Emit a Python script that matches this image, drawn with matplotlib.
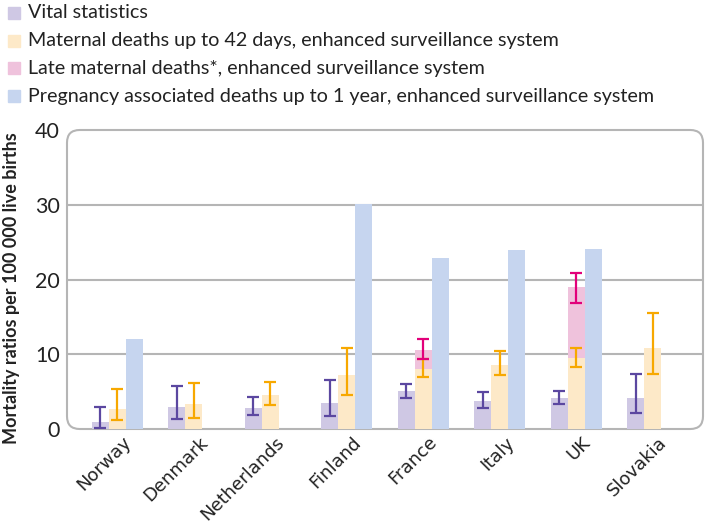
import numpy as np
import matplotlib.pyplot as plt
import matplotlib.transforms as mtransforms
from matplotlib.patches import FancyBboxPatch, Rectangle

countries = ['Norway', 'Denmark', 'Netherlands', 'Finland', 'France', 'Italy', 'UK', 'Slovakia']

vital = [1.0, 3.0, 2.8, 3.5, 5.1, 3.7, 4.1, 4.2]
vital_lo = [0.2, 1.4, 1.9, 1.7, 4.2, 2.8, 3.3, 2.2]
vital_hi = [3.0, 5.7, 4.3, 6.5, 6.0, 5.0, 5.1, 7.4]

maternal = [2.7, 3.3, 4.6, 7.2, 8.0, 8.6, 9.5, 10.8]
maternal_lo = [1.2, 1.5, 3.2, 4.5, 7.0, 7.2, 8.3, 7.3]
maternal_hi = [5.4, 6.1, 6.3, 10.9, 9.4, 10.5, 10.9, 15.5]

# late maternal deaths, stacked on top of maternal deaths (France and UK only)
late_idx = [4, 6]
late_total = [10.6, 19.0]
late_lo = [9.4, 16.9]
late_hi = [12.0, 20.9]

pregnancy = [12.0, np.nan, np.nan, 30.1, 22.9, 23.9, 24.1, np.nan]

labels = ['Vital statistics',
          'Maternal deaths up to 42 days, enhanced surveillance system',
          'Late maternal deaths*, enhanced surveillance system',
          'Pregnancy associated deaths up to 1 year, enhanced surveillance system']

c_vital, e_vital = '#cfc8e4', '#5b47a0'
c_mat, e_mat = '#fde9c8', '#f7a800'
c_late, e_late = '#efc2dc', '#e2007a'
c_preg = '#c6d5ef'

fig = plt.figure(figsize=(7.05, 5.24), dpi=100)
ax = fig.add_axes([67 / 705, 1 - 429 / 524, 636 / 705, 299 / 524])

x = np.arange(len(countries))
w = 0.222

ax.bar(x - w, vital, w, color=c_vital, zorder=2)
ax.bar(x, maternal, w, color=c_mat, zorder=2)
mat_base = [maternal[i] for i in late_idx]
ax.bar(x[late_idx], np.array(late_total) - np.array(mat_base), w, bottom=mat_base,
       color=c_late, zorder=2)
ax.bar(x + w, pregnancy, w, color=c_preg, zorder=2)

ek = dict(fmt='none', capsize=4, elinewidth=1.6, capthick=1.6, zorder=4)
ax.errorbar(x - w, vital, yerr=[np.array(vital) - vital_lo, np.array(vital_hi) - vital],
            ecolor=e_vital, **ek)
ax.errorbar(x, maternal, yerr=[np.array(maternal) - maternal_lo, np.array(maternal_hi) - maternal],
            ecolor=e_mat, **ek)
ax.errorbar(x[late_idx], late_total,
            yerr=[np.array(late_total) - late_lo, np.array(late_hi) - late_total],
            ecolor=e_late, **ek)

for g in [10, 20, 30]:
    ax.axhline(g, color='#b5b5b5', lw=1.5, zorder=0)

ax.set_xlim(-0.654, 7.654)
ax.set_ylim(0, 40)
for s in ax.spines.values():
    s.set_visible(False)

frame = FancyBboxPatch((0, 0), 1, 1, boxstyle='round,pad=0,rounding_size=0.02',
                       mutation_aspect=636 / 299, transform=ax.transAxes,
                       facecolor='none', edgecolor='#b5b5b5', lw=1.5,
                       clip_on=False, zorder=1)
ax.add_patch(frame)

ax.set_yticks([0, 10, 20, 30, 40])
ax.set_yticklabels(['0', '10', '20', '30', '40'], fontsize=15.5, family='Lato', color='#222222')
ax.set_xticks(x)
ax.set_xticklabels(countries, rotation=45, ha='right', rotation_mode='anchor',
                   fontsize=13, color='#222222')
ax.tick_params(axis='both', length=0)
ax.tick_params(axis='y', pad=5)
ax.tick_params(axis='x', pad=3)
shift = mtransforms.ScaledTranslation(5 / 100, 0, fig.dpi_scale_trans)
for t in ax.get_xticklabels():
    t.set_transform(t.get_transform() + shift)

fig.text(12 / 705, 1 - 288 / 524, 'Mortality ratios per 100 000 live births', rotation=90,
         ha='center', va='center', fontsize=13, fontweight='bold', family='Lato',
         color='#222222')

# legend drawn by hand at the top left
colors = [c_vital, c_mat, c_late, c_preg]
for i, (lab, col) in enumerate(zip(labels, colors)):
    yc = 13 + i * 27.7
    fig.patches.append(Rectangle((8 / 705, 1 - (yc + 6) / 524), 12 / 705, 12 / 524,
                                 transform=fig.transFigure, color=col, figure=fig))
    fig.text(28 / 705, 1 - yc / 524, lab, ha='left', va='center', fontsize=14.2,
             family='Lato', color='#222222')

fig.savefig('out.png', dpi=100)
